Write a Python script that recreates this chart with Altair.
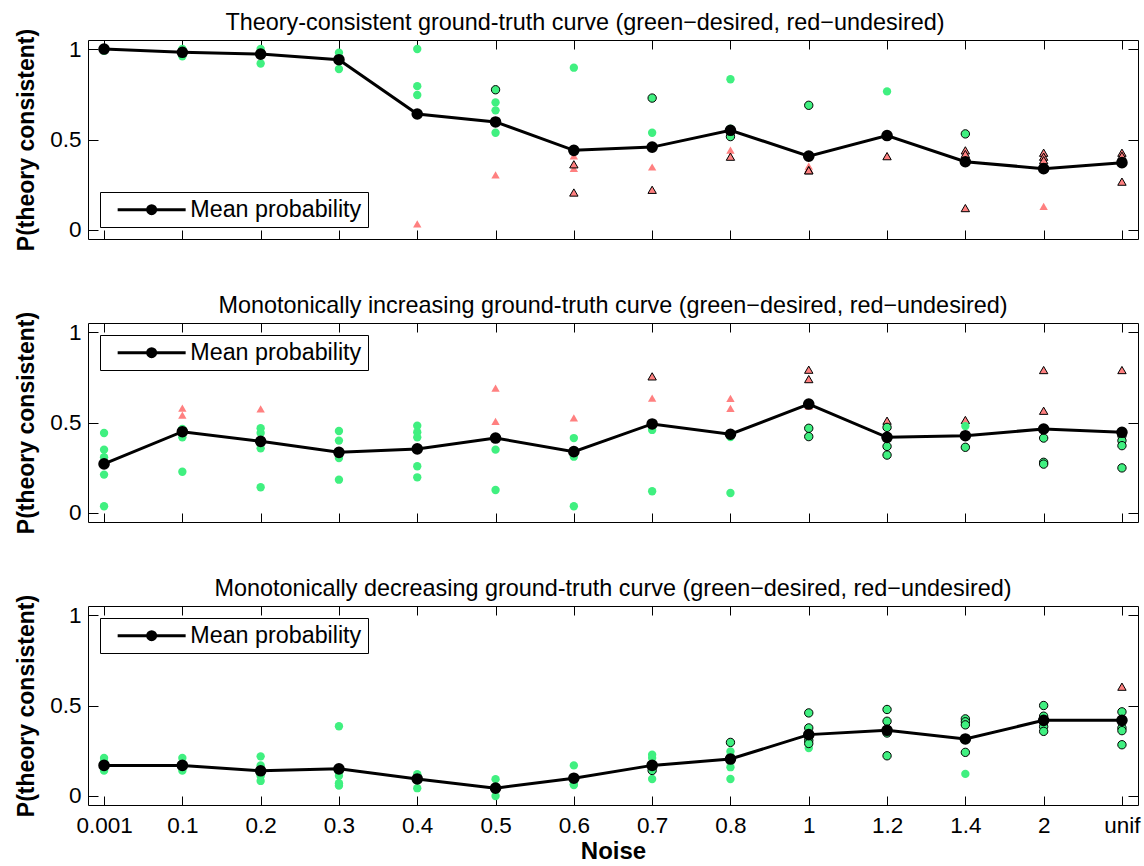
import altair as alt
import pandas as pd

FONT = "Liberation Sans"
GREEN = "#40F080"
RED = "#FF8080"

noise_labels = ["0.001", "0.1", "0.2", "0.3", "0.4", "0.5", "0.6", "0.7",
                "0.8", "1", "1.2", "1.4", "2", "unif"]
series_label = "Mean probability"

panel_titles = [
    "Theory-consistent ground-truth curve (green\u2212desired, red\u2212undesired)",
    "Monotonically increasing ground-truth curve (green\u2212desired, red\u2212undesired)",
    "Monotonically decreasing ground-truth curve (green\u2212desired, red\u2212undesired)",
]

# mean probability per noise level
mean_theory = [1.0, 0.982, 0.972, 0.941, 0.641, 0.597, 0.44, 0.458, 0.551,
               0.408, 0.522, 0.377, 0.339, 0.372]
mean_increasing = [0.271, 0.449, 0.396, 0.335, 0.354, 0.414, 0.339, 0.492,
                   0.435, 0.602, 0.418, 0.427, 0.464, 0.446]
mean_decreasing = [0.169, 0.169, 0.139, 0.15, 0.094, 0.043, 0.098, 0.169,
                   0.204, 0.339, 0.363, 0.315, 0.418, 0.418]

# individual results: (noise, probability)
theory_green = [("0.001", 1.0), ("0.001", 0.995), ("0.001", 0.99),
                ("0.1", 1.0), ("0.1", 0.99), ("0.1", 0.97), ("0.1", 0.96),
                ("0.2", 1.0), ("0.2", 0.98), ("0.2", 0.97), ("0.2", 0.92),
                ("0.3", 0.98), ("0.3", 0.95), ("0.3", 0.94), ("0.3", 0.89),
                ("0.4", 1.0), ("0.4", 0.795), ("0.4", 0.746),
                ("0.5", 0.705), ("0.5", 0.661), ("0.5", 0.537),
                ("0.6", 0.897), ("0.7", 0.537), ("0.8", 0.833), ("0.8", 0.56),
                ("1.2", 0.766)]
theory_green_edged = [("0.5", 0.775), ("0.7", 0.729), ("0.8", 0.516),
                      ("1", 0.689), ("1.4", 0.531)]
theory_red = [("0.4", 0.033), ("0.5", 0.304), ("0.6", 0.41), ("0.6", 0.34),
              ("0.7", 0.348), ("0.8", 0.441), ("1", 0.353), ("1", 0.34),
              ("1.2", 0.41), ("2", 0.13)]
theory_red_edged = [("0.6", 0.363), ("0.6", 0.207), ("0.7", 0.222),
                    ("0.8", 0.405), ("1", 0.33), ("1", 0.33), ("1.2", 0.408),
                    ("1.4", 0.44), ("1.4", 0.42), ("1.4", 0.121),
                    ("2", 0.427), ("2", 0.405), ("2", 0.386),
                    ("unif", 0.427), ("unif", 0.41), ("unif", 0.267)]

increasing_green = [("0.001", 0.442), ("0.001", 0.35), ("0.001", 0.308),
                    ("0.001", 0.212), ("0.001", 0.037),
                    ("0.1", 0.464), ("0.1", 0.418), ("0.1", 0.228),
                    ("0.2", 0.468), ("0.2", 0.442), ("0.2", 0.357), ("0.2", 0.142),
                    ("0.3", 0.453), ("0.3", 0.4), ("0.3", 0.335), ("0.3", 0.304),
                    ("0.3", 0.184),
                    ("0.4", 0.482), ("0.4", 0.446), ("0.4", 0.418), ("0.4", 0.258),
                    ("0.4", 0.197),
                    ("0.5", 0.35), ("0.5", 0.127),
                    ("0.6", 0.414), ("0.6", 0.311), ("0.6", 0.037),
                    ("0.7", 0.459), ("0.7", 0.12),
                    ("0.8", 0.42), ("0.8", 0.11), ("1.4", 0.48)]
increasing_green_edged = [("1", 0.468), ("1", 0.422),
                          ("1.2", 0.473), ("1.2", 0.368), ("1.2", 0.32),
                          ("1.4", 0.363),
                          ("2", 0.414), ("2", 0.28), ("2", 0.27),
                          ("unif", 0.427), ("unif", 0.40), ("unif", 0.372),
                          ("unif", 0.249)]
increasing_red = [("0.1", 0.58), ("0.1", 0.541), ("0.2", 0.575),
                  ("0.5", 0.69), ("0.5", 0.506), ("0.6", 0.525), ("0.7", 0.635),
                  ("0.8", 0.634), ("0.8", 0.578), ("1", 0.59)]
increasing_red_edged = [("0.7", 0.755), ("1", 0.792), ("1", 0.74),
                        ("1.2", 0.51), ("1.4", 0.514), ("2", 0.79),
                        ("2", 0.565), ("unif", 0.79)]

decreasing_green = [("0.001", 0.21), ("0.001", 0.19), ("0.001", 0.16),
                    ("0.001", 0.14), ("0.001", 0.15),
                    ("0.1", 0.21), ("0.1", 0.17), ("0.1", 0.14), ("0.1", 0.16),
                    ("0.2", 0.219), ("0.2", 0.169), ("0.2", 0.11), ("0.2", 0.083),
                    ("0.2", 0.12),
                    ("0.3", 0.385), ("0.3", 0.13), ("0.3", 0.111), ("0.3", 0.057),
                    ("0.3", 0.07),
                    ("0.4", 0.12), ("0.4", 0.11), ("0.4", 0.043), ("0.4", 0.1),
                    ("0.5", 0.093), ("0.5", 0.036), ("0.5", 0.0),
                    ("0.6", 0.169), ("0.6", 0.065), ("0.6", 0.06),
                    ("0.7", 0.228), ("0.7", 0.21), ("0.7", 0.094),
                    ("0.8", 0.246), ("0.8", 0.159), ("0.8", 0.094), ("0.8", 0.22),
                    ("1", 0.265), ("1.4", 0.122)]
decreasing_green_edged = [("0.7", 0.141), ("0.8", 0.296),
                          ("1", 0.459), ("1", 0.376), ("1", 0.307), ("1", 0.29),
                          ("1.2", 0.478), ("1.2", 0.413), ("1.2", 0.348),
                          ("1.2", 0.222),
                          ("1.4", 0.426), ("1.4", 0.41), ("1.4", 0.393),
                          ("1.4", 0.241),
                          ("2", 0.5), ("2", 0.441), ("2", 0.41), ("2", 0.383),
                          ("2", 0.357),
                          ("unif", 0.465), ("unif", 0.376), ("unif", 0.361),
                          ("unif", 0.283)]
decreasing_red = []
decreasing_red_edged = [("unif", 0.604)]

panel_means = [mean_theory, mean_increasing, mean_decreasing]
panel_points = [
    [(theory_red, "undesired", "no"), (theory_red_edged, "undesired", "yes"),
     (theory_green, "desired", "no"), (theory_green_edged, "desired", "yes")],
    [(increasing_red, "undesired", "no"), (increasing_red_edged, "undesired", "yes"),
     (increasing_green, "desired", "no"), (increasing_green_edged, "desired", "yes")],
    [(decreasing_red, "undesired", "no"), (decreasing_red_edged, "undesired", "yes"),
     (decreasing_green, "desired", "no"), (decreasing_green_edged, "desired", "yes")],
]

# legend glyph: a line with a dot (symbol size 144 -> 6 px per path unit)
LEGEND_PATH = ("M-5.667,0L5.667,0M0.667,0A0.667,0.667,0,1,1,-0.667,0"
               "A0.667,0.667,0,1,1,0.667,0Z")


def make_panel(k, legend_y, last, title_dx):
    rows = []
    for lst, kind, edge in panel_points[k]:
        for noise, val in lst:
            rows.append({"noise": noise, "value": val, "kind": kind, "edge": edge})
    pts = pd.DataFrame(rows)
    means = pd.DataFrame({"noise": noise_labels, "mean": panel_means[k],
                          "idx": list(range(len(noise_labels))),
                          "series": [series_label] * len(noise_labels)})

    xscale = alt.Scale(type="point", domain=noise_labels, padding=0.205)
    yscale = alt.Scale(domain=[-0.05, 1.05], nice=False, zero=False)

    xkw = dict(orient="bottom", offset=-9, tickSize=9, domain=False, grid=False,
               labels=last, labelAngle=0, labelPadding=9, labelFontSize=22.5,
               labelColor="black", tickColor="black", titleColor="black")
    if last:
        xkw.update(title="Noise", titleFontSize=24, titleFontWeight="bold",
                   titlePadding=3)
    else:
        xkw.update(title=None)
    x_axis = alt.Axis(**xkw)
    y_axis = alt.Axis(orient="left", offset=-10, tickSize=10, domain=False,
                      grid=False, values=[0, 0.5, 1], format="~g",
                      labelFontSize=22.5, labelPadding=7, labelColor="black",
                      tickColor="black", title="P(theory consistent)",
                      titleFontSize=23, titleFontWeight="bold", titlePadding=11,
                      titleColor="black")

    scatter = alt.Chart(pts).mark_point(filled=True, size=70, strokeWidth=1,
                                        opacity=1).encode(
        x=alt.X("noise:N", scale=xscale, axis=x_axis),
        y=alt.Y("value:Q", scale=yscale, axis=y_axis),
        shape=alt.Shape("kind:N", scale=alt.Scale(domain=["desired", "undesired"],
                                                  range=["circle", "triangle-up"]),
                        legend=None),
        fill=alt.Fill("kind:N", scale=alt.Scale(domain=["desired", "undesired"],
                                                range=[GREEN, RED]), legend=None),
        stroke=alt.Stroke("edge:N", scale=alt.Scale(domain=["yes", "no"],
                                                    range=["black", "transparent"]),
                          legend=None),
    )

    line = alt.Chart(means).mark_line(color="black", strokeWidth=3).encode(
        x=alt.X("noise:N", scale=xscale, axis=None),
        y=alt.Y("mean:Q", scale=yscale, axis=None),
        order=alt.Order("idx:Q"),
    )

    dots = alt.Chart(means).mark_point(filled=True, size=135, opacity=1).encode(
        x=alt.X("noise:N", scale=xscale, axis=None),
        y=alt.Y("mean:Q", scale=yscale, axis=None),
        color=alt.Color("series:N",
                        scale=alt.Scale(domain=[series_label], range=["black"]),
                        legend=alt.Legend(orient="none", legendX=12,
                                          legendY=legend_y, title=None,
                                          symbolType=LEGEND_PATH,
                                          symbolSize=144, symbolStrokeWidth=3,
                                          symbolStrokeColor="black",
                                          symbolFillColor="black",
                                          symbolOffset=34, labelFontSize=23.3,
                                          labelFont=FONT, labelColor="black",
                                          labelOffset=27, labelLimit=400,
                                          padding=6, strokeColor="black",
                                          fillColor="white")),
    )

    frame = alt.Chart(means).mark_point(opacity=0).encode(
        x=alt.X("noise:N", scale=xscale,
                axis=alt.Axis(orient="top", offset=-9, tickSize=9, domain=False,
                              grid=False, labels=False, title=None,
                              tickColor="black")),
        y=alt.Y("mean:Q", scale=yscale,
                axis=alt.Axis(orient="right", offset=-10, tickSize=10,
                              domain=False, grid=False, labels=False, title=None,
                              values=[0, 0.5, 1], tickColor="black")),
    )

    return alt.layer(scatter, line, dots, frame).resolve_axis(
        x="independent", y="independent"
    ).properties(
        width=1050, height=199,
        title=alt.TitleParams(text=panel_titles[k], fontSize=23.4, font=FONT,
                              fontWeight="normal", color="black", offset=-7,
                              anchor="middle", dx=title_dx),
    )


chart = alt.vconcat(
    make_panel(0, 152, False, -28),
    make_panel(1, 12, False, 0),
    make_panel(2, 12, True, 0),
    spacing=41,
).resolve_scale(color="independent").resolve_legend(color="independent").properties(
    padding={"left": 15, "top": 10, "right": 3, "bottom": 0},
    background="white",
).configure_axis(labelFont=FONT, titleFont=FONT).configure_legend(
    labelFont=FONT
).configure_title(font=FONT).configure_view(stroke="black", strokeWidth=1)

chart.save("out.html", embed_options={"renderer": "svg", "actions": False})
